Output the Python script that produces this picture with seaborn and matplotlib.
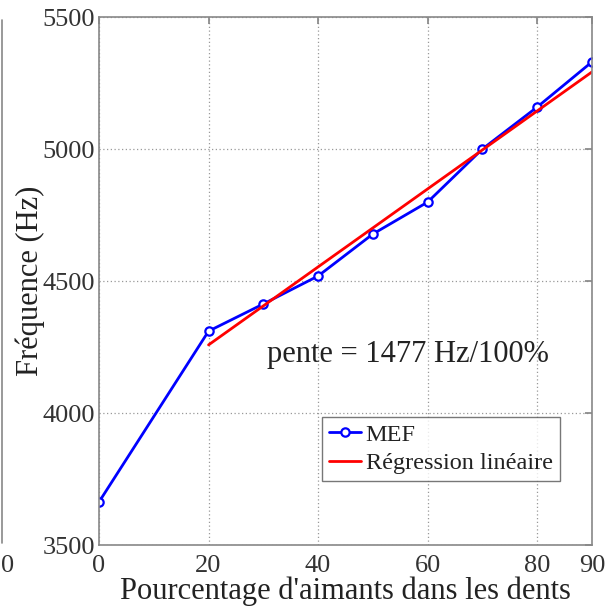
import numpy as np
import pandas as pd
import matplotlib
matplotlib.use("Agg")
import matplotlib.pyplot as plt
import seaborn as sns
from matplotlib.lines import Line2D

# data
pourcentage = [0, 20, 30, 40, 50, 60, 70, 80, 90]
frequence = [3663, 4310, 4413, 4519, 4678, 4799, 5000, 5159, 5330]
reg_x = [20, 90]
reg_y = [4258, 5292]
x_ticks = [0, 20, 40, 60, 80, 90]
y_ticks = [3500, 4000, 4500, 5000, 5500]

sns.set_theme(style="white")
plt.rcParams['font.family'] = ['Liberation Serif', 'DejaVu Serif']

df = pd.DataFrame({"x": pourcentage, "y": frequence})
reg = pd.DataFrame({"x": reg_x, "y": reg_y})

fig = plt.figure(figsize=(6.13, 6.06), dpi=100)
ax = fig.add_axes([99 / 613, 1 - 545 / 606, 493 / 613, 528 / 606])

sns.lineplot(data=df, x="x", y="y", ax=ax, color="#0000ff", lw=2,
             marker="o", markersize=6, markerfacecolor="white",
             markeredgecolor="#0000ff", markeredgewidth=1.6, label="MEF")
sns.lineplot(data=reg, x="x", y="y", ax=ax, color="#ff0000", lw=2,
             label="Régression linéaire")

ax.set_xlim(0, 90)
ax.set_ylim(3500, 5500)
ax.set_xticks(x_ticks)
ax.set_yticks(y_ticks)
ax.grid(True, linestyle=(0, (1, 2)), color="#999999", lw=0.9)
for s in ax.spines.values():
    s.set_color("#888888")
    s.set_linewidth(1.2)
ax.tick_params(direction="in", length=5, color="#888888", top=True, right=True,
               labelsize=19, labelcolor="#333333", pad=3)
ax.tick_params(axis="x", pad=7)
ax.set_xlabel("Pourcentage d'aimants dans les dents", fontsize=22, color="#222222")
ax.xaxis.set_label_coords(0.5, -0.06)
ax.set_ylabel("Fréquence (Hz)", fontsize=22, color="#222222")
ax.yaxis.set_label_coords(-0.11, 0.5)

ax.text(0.34, 0.36, "pente = 1477 Hz/100%", transform=ax.transAxes,
        fontsize=22, color="#222222", va="center")

leg = ax.legend(loc="upper left", bbox_to_anchor=(0.452, 0.243), fontsize=17.5,
                frameon=True, fancybox=False, handlelength=1.3, handletextpad=0.2,
                borderpad=0.3, labelspacing=0.25, borderaxespad=0)
leg.get_frame().set_edgecolor("#555555")
leg.get_frame().set_linewidth(1.0)
for t in leg.get_texts():
    t.set_color("#222222")

# edge of the neighbouring panel on the left
fig.add_artist(Line2D([2 / 613, 2 / 613], [1 - 20 / 606, 1 - 543 / 606],
                      color="#888888", lw=1.2))
fig.text(1 / 613, 1 - 566 / 606, "0", fontsize=19, color="#333333",
         ha="left", va="center")

fig.savefig("out.png", dpi=100)
